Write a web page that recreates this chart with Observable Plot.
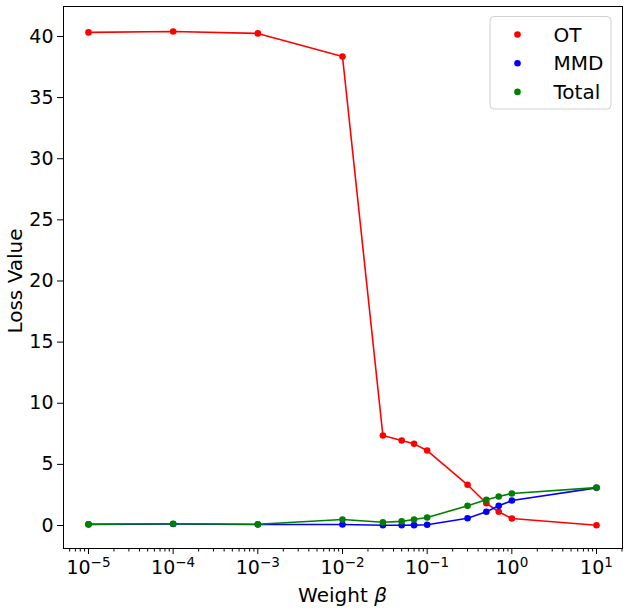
<!DOCTYPE html>
<html>
<head>
<meta charset="utf-8">
<script src="https://cdn.jsdelivr.net/npm/d3@7"></script>
<script src="https://cdn.jsdelivr.net/npm/@observablehq/plot@0.6"></script>
<style>
  html, body { margin: 0; padding: 0; background: white; }
  #chart svg { display: block; }
</style>
</head>
<body>
<div id="chart"></div>
<script>
const betas = [1e-5, 1e-4, 1e-3, 1e-2, 0.03, 0.05, 0.07, 0.1, 0.3, 0.5, 0.7, 1, 10];
const otLoss = [40.33, 40.4, 40.25, 38.36, 7.36, 6.95, 6.68, 6.13, 3.33, 1.82, 1.12, 0.57, 0.02];
const mmdLoss = [0.09, 0.12, 0.08, 0.08, 0.02, 0.02, 0.03, 0.06, 0.6, 1.12, 1.61, 2.04, 3.08];
const totalLoss = [0.1, 0.14, 0.1, 0.49, 0.27, 0.34, 0.49, 0.66, 1.61, 2.1, 2.37, 2.62, 3.1];
const seriesNames = ["OT", "MMD", "Total"];
const seriesColors = ["red", "blue", "green"];
const yTicks = [0, 5, 10, 15, 20, 25, 30, 35, 40];
const xTicks = [1e-5, 1e-4, 1e-3, 1e-2, 1e-1, 1, 10];
const yLabel = "Loss Value";
const xLabelText = "Weight ";
const xLabelSymbol = "β";

const seriesValues = [otLoss, mmdLoss, totalLoss];
const rows = seriesNames.flatMap((name, i) =>
  betas.map((b, j) => ({series: name, beta: b, loss: seriesValues[i][j]})));

const W = 628, H = 613;
const mL = 63, mR = 6, mT = 6, mB = 65;
const xDomain = [Math.pow(10, -5.295), Math.pow(10, 1.307)];
const yDomain = [-1.88, 42.45];

// minor ticks (2..9 × decade) inside domain
const minorTicks = [];
for (let e = -6; e <= 1; e++) for (let m = 2; m <= 9; m++) {
  const v = m * Math.pow(10, e);
  if (v >= xDomain[0] && v <= xDomain[1]) minorTicks.push(v);
}

const chart = Plot.plot({
  width: W, height: H,
  marginLeft: mL, marginRight: mR, marginTop: mT, marginBottom: mB,
  style: {fontFamily: "DejaVu Sans", fontSize: "19px", color: "black", background: "white"},
  x: {type: "log", domain: xDomain},
  y: {domain: yDomain},
  color: {domain: seriesNames, range: seriesColors},
  marks: [
    Plot.frame({stroke: "black", strokeWidth: 1}),
    Plot.axisY({ticks: yTicks, tickSize: 6, tickPadding: 4, label: null, fontSize: 19, stroke: "black"}),
    Plot.axisX({ticks: xTicks, tickSize: 6, tickPadding: 6, label: null, fontSize: 19,
      tickFormat: d => String(Math.round(Math.log10(d)))}),
    Plot.axisX({ticks: minorTicks, tickSize: 3.5, tickFormat: () => "", label: null}),
    ...seriesNames.map(name =>
      Plot.line(rows.filter(r => r.series === name), {x: "beta", y: "loss", stroke: "series", strokeWidth: 1.6})),
    ...seriesNames.map(name =>
      Plot.dot(rows.filter(r => r.series === name), {x: "beta", y: "loss", fill: "series", r: 3.3}))
  ]
});
document.getElementById("chart").appendChild(chart);

const svg = d3.select(chart);
// superscript tick labels on x
svg.selectAll('[aria-label="x-axis tick label"] text').each(function() {
  const t = d3.select(this);
  const exp = t.text();
  if (exp === "") return;
  const e = exp.startsWith("-") ? "\u2212" + exp.slice(1) : exp;
  t.text("");
  t.append("tspan").text("10");
  t.append("tspan").attr("dy", "-0.55em").attr("font-size", "13.5px").text(e);
});

// axis labels
svg.append("text")
  .attr("transform", `translate(${15},${281}) rotate(-90)`)
  .attr("text-anchor", "middle").attr("font-family", "DejaVu Sans").attr("font-size", 20)
  .attr("dominant-baseline", "central")
  .text(yLabel);
const xl = svg.append("text")
  .attr("x", mL + (W - mL - mR) / 2).attr("y", 602)
  .attr("text-anchor", "middle").attr("font-family", "DejaVu Sans").attr("font-size", 20);
xl.append("tspan").text(xLabelText);
xl.append("tspan").attr("font-style", "italic").text(xLabelSymbol);

// legend
const lg = svg.append("g");
lg.append("rect").attr("x", 490).attr("y", 16.5).attr("width", 121).attr("height", 92.5)
  .attr("rx", 4).attr("fill", "white").attr("fill-opacity", 0.8).attr("stroke", "#d0d0d0");
seriesNames.forEach((name, i) => {
  const cy = 34.5 + i * 28.7;
  lg.append("circle").attr("cx", 517.5).attr("cy", cy).attr("r", 3.3).attr("fill", seriesColors[i]);
  lg.append("text").attr("x", 553.5).attr("y", cy).attr("dominant-baseline", "central")
    .attr("text-anchor", "start")
    .attr("font-family", "DejaVu Sans").attr("font-size", 20).text(name);
});
</script>
</body>
</html>
